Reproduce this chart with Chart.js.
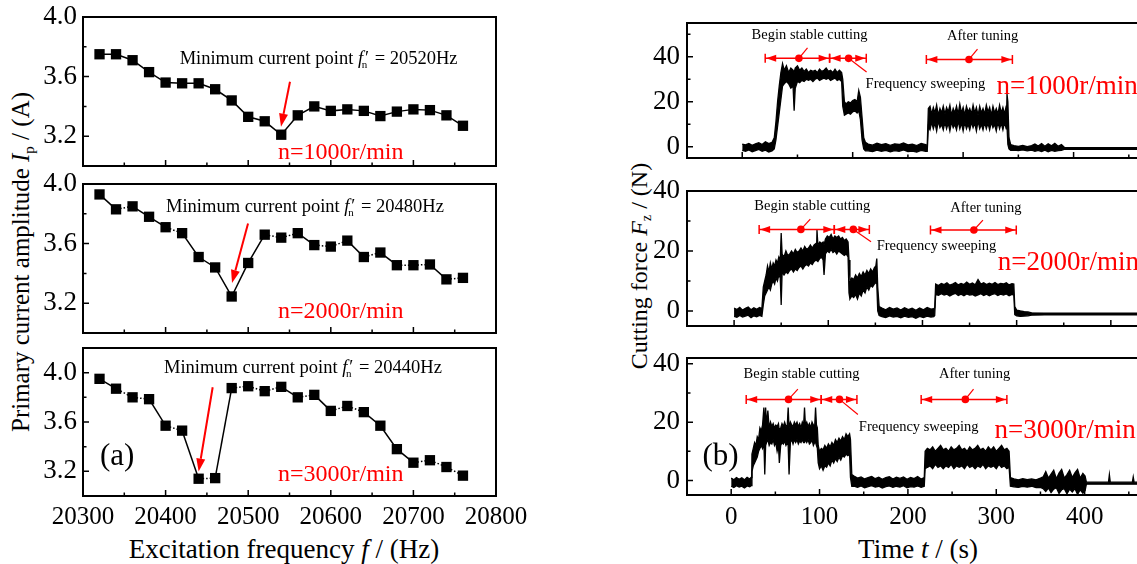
<!DOCTYPE html>
<html><head><meta charset="utf-8">
<script src="https://cdn.jsdelivr.net/npm/chart.js"></script>
<style>
html,body{margin:0;padding:0;width:1137px;height:564px;overflow:hidden;background:#fff;position:relative;}
canvas{position:absolute;}
.ttl{position:absolute;font-family:"Liberation Serif","Times New Roman",serif;color:#000;white-space:nowrap;line-height:1;transform:translate(-50%,-50%);}
.rot{transform:translate(-50%,-50%) rotate(-90deg);}
.ttl sub{font-size:60%;vertical-align:baseline;position:relative;top:0.3em;}
</style></head><body>
<div class="ttl rot" style="left:20px;top:262px;font-size:25px">Primary current amplitude <i>I</i><sub>p</sub> / (A)</div>
<div class="ttl rot" style="left:639px;top:266px;font-size:24px">Cutting force <i>F</i><sub>z</sub> / (N)</div>
<div class="ttl" style="left:284px;top:549px;font-size:27px">Excitation frequency <i>f</i> / (Hz)</div>
<div class="ttl" style="left:918px;top:549px;font-size:27px">Time <i>t</i> / (s)</div>
<script>
// ---------------- data: panel (a) ----------------
const freq = [20320,20340,20360,20380,20400,20420,20440,20460,20480,20500,20520,20540,20560,20580,20600,20620,20640,20660,20680,20700,20720,20740,20760];
const current1000 = [3.75,3.75,3.71,3.63,3.56,3.555,3.555,3.515,3.44,3.33,3.30,3.21,3.34,3.40,3.37,3.38,3.37,3.335,3.365,3.38,3.375,3.34,3.27];
const current2000 = [3.93,3.83,3.85,3.78,3.71,3.67,3.51,3.44,3.245,3.47,3.66,3.64,3.67,3.59,3.58,3.62,3.51,3.54,3.455,3.455,3.46,3.36,3.37];
const current3000 = [3.95,3.87,3.80,3.785,3.57,3.53,3.14,3.145,3.875,3.89,3.85,3.885,3.80,3.82,3.69,3.73,3.68,3.57,3.38,3.27,3.29,3.235,3.165];
const freqTicks = [20300,20400,20500,20600,20700,20800];
const freqMinor = [20350,20450,20550,20650,20750];
const currentTicks = [3.2,3.6,4.0];
const currentMinor = [3.4,3.8];

// ---------------- data: panel (b) ----------------
// n = 1000 r/min : time, upper and lower edge of the force trace
const time1000 = [0,3,6,9,12,15,18,21,24,27,
 29,30.5,32,33.5,35,36.5,38,
 40,42,44,46,47,48,50,52,54,56,58,60,62,64,66,68,70,72,74,76,78,80,82,84,86,88,90,
 91,92.5,94,96,98,100,102,104,105.5,107,108.5,110,111.5,
 114,118,122,126,130,134,138,142,146,150,154,158,162,166,
 167.5,168.5,
 170,171.5,173,174.5,176,177.5,179,180.5,182,183.5,185,186.5,188,189.5,191,192.5,194,195.5,197,198.5,200,201.5,203,204.5,206,207.5,209,210.5,212,213.5,215,216.5,218,219.5,221,222.5,224,225.5,227,228.5,230,231.5,233,234.5,236,237.5,239,
 239.7,240.5,241.5,243,
 246,250,254,258,262,265,268,271,274,277,280,283,286,289,
 292,320,360,400];
const upper1000 = [1.2,0.8,1.5,0.6,1.3,1.8,1.0,2.2,1.4,2.0,
 4,11,20,27,33,37,34,
 36,33,35,34,33,35,36,34,35,33.5,34.5,33,34,33.5,34,33,34.5,33.5,34,35,33.5,34,33,34.5,33,34,33,
 30,20,19,20,19.5,20.5,21,20,25,22,13,4,2,
 1.2,0.7,1.6,0.9,1.4,0.6,1.3,1.0,1.7,0.8,1.2,0.5,1.5,1.0,
 0.5,17,
 18,14.5,17.5,15,18.5,14,17,15,18,14.5,17.5,15.5,18.5,14,17,15,18,14.5,19,15,17.5,14,18,15.5,17,14.5,18.5,15,17.5,14,18,15,17,14.5,18.5,15.5,17.5,14,18,15,17,14.5,18.5,15,17.5,14.5,18,
 23.5,20,4,1.0,
 0.5,0.2,0.6,0.1,0.5,1.2,0.3,1.4,0.2,1.3,0.4,1.5,0.2,1.0,
 -0.4,-0.4,-0.4,-0.4];
const lower1000 = [-1.6,-2.0,-1.4,-2.2,-1.7,-1.2,-2.0,-1.5,-2.3,-1.8,
 -1,3,9,15,21,27,28,
 29,28,26,27,16,26,29,28.5,29.5,29,30,29.5,30,29,30,30.5,29.5,30,30.5,30,30.5,29.5,30,30.5,29.5,30,29,
 18,14,14.5,15,14.5,15.5,16,15,16,12,3,-1,-1.8,
 -1.8,-2.2,-1.5,-2.0,-1.6,-2.3,-1.7,-2.0,-1.4,-2.1,-1.9,-2.4,-1.6,-2.0,
 -2,9,
 7.5,11,8,10.5,7,11.5,8.5,10,7.5,11,8,10.5,7,11,8.5,10,7.5,11.5,8,10.5,7,11,8,10,7.5,11,8.5,10.5,7,11.5,8,10,7.5,11,8,10.5,7.5,11,8.5,10,7,11,8,10.5,7.5,11,8,
 9,1,-1,-1.6,
 -1.5,-1.7,-1.4,-1.8,-1.5,-2.0,-1.6,-2.1,-1.5,-2.2,-1.6,-2.0,-1.7,-1.6,
 -1.1,-1.1,-1.1,-1.1];

// n = 2000 r/min
const time2000 = [0,3,6,9,12,15,18,21,24,27,29.5,
 31,32.5,34,35.5,37,38.5,40,41.5,43,44.5,46,47.5,49,
 50,51,
 53,55,57,59,61,63,65,67,69,71,73,75,77,79,81,83,85,87,88,89,91,93,94.5,95.5,97,
 99,101,103,105,107,109,111,113,115,117,119,121,
 122,123,125,127,129,131,133,135,137,139,141,143,145,147,149,150.5,151.5,152.5,154,
 157,161,165,169,173,177,181,185,189,193,197,201,205,209,212,
 213,214,217,220,223,226,229,232,235,238,241,244,247,250,253,256,259,262,265,268,271,274,277,280,283,286,289,292,295,297,
 298,300,304,308,312,316,330,380,440,470];
const upper2000 = [1.0,0.5,1.2,0.3,0.9,1.3,0.4,1.1,0.6,1.2,0.8,
 8,10,12,15,13,16,14,16,15,17,16,18,17,
 26,19,
 18,20,18.5,19,20,19,20.5,19.5,20,21,20,21.5,20.5,21,22,21,22,22.5,27,22,23,22.5,23,22,24,
 25,24.5,25.5,24,25,24.5,25,24,24.5,23.5,24,23,
 17,10,11,10.5,12,11,12.5,11.5,13,12,13.5,12.5,14,13,14.5,15,17.5,8,1.5,
 1.0,0.4,1.2,0.6,1.0,0.3,1.1,0.5,0.9,0.2,1.0,0.4,1.2,0.6,0.8,
 1,9,8.5,9.2,8.8,9.4,8.6,9,9.5,8.7,9.2,8.8,9.6,8.9,9.3,8.7,10.5,9.0,9.4,8.8,9.3,8.9,9.5,8.8,9.2,9.0,9.4,8.7,9.1,9.0,
 1.5,0.3,0,-0.2,-0.3,-0.6,-0.7,-0.7,-0.7,-0.7];
const lower2000 = [-1.8,-2.1,-1.5,-2.0,-1.7,-1.4,-2.2,-1.6,-1.9,-1.5,-1.8,
 2,5,6,7,8,7,9,10,9,11,10,12,11,
 2,13,
 12,13,12.5,13.5,14,13,14,13.5,14.5,15,14,15,15.5,15,16,15.5,16.5,17,17,16.5,17.5,18,17,12,19,
 20,19.5,20.5,19.5,20,19,20,19.5,19,18.5,19,18,
 6,4,5,4.5,5.5,4,6,5,7,6,8,7,8.5,8,9,9.5,9,0,-1.5,
 -1.9,-2.2,-1.6,-2.0,-1.8,-2.3,-1.7,-2.1,-1.9,-2.4,-1.8,-2.2,-1.7,-2.0,-1.9,
 -1.5,5.5,5.2,5.8,5.3,5.6,5.0,5.5,5.9,5.2,5.6,5.1,5.7,5.3,5.5,5.0,5.4,5.8,5.2,5.6,5.1,5.5,5.8,5.2,5.6,5.3,5.7,5.1,5.5,5.3,
 -1.2,-1.6,-1.8,-1.7,-1.6,-1.4,-1.3,-1.3,-1.3,-1.3];

// n = 3000 r/min
const time3000 = [0,3,6,9,12,15,18,21,22.5,
 23.5,25,26.5,28,29.5,31,32.5,34,35.5,37,38,39,40,41.5,43,44.5,46,47.5,49,50.5,52,53.5,54.5,56,57.5,59,60.5,62,63.5,64.5,65.5,67,68.5,70,71.5,73,74.5,76,77.5,79,80.5,82,83,84,85.5,87,88.5,90,91.5,93,94.5,95.5,96.5,97.5,
 98.5,100,102,104,106,108,110,112,114,116,118,120,122,124,126,128,130,132,134,135,136.5,
 139,143,147,151,155,159,163,167,171,175,179,183,187,191,195,199,203,207,211,215,218.5,
 219.5,222,225,228,231,234,237,240,243,246,249,252,255,258,261,264,267,270,273,276,279,282,285,288,291,294,297,300,303,306,309,312,314.5,
 316,320,325,330,335,340,345,350,353,356,359,362,365,368,371,374,377,380,383,386,389,392,395,398,400.5,402,420,427,428,429,445,454,455,456,480,500];
const upper3000 = [0.8,0.2,1.0,0.4,0.9,0.2,1.1,0.5,1.0,
 9,11,13,12,15,14,18,17,19,25,18,25,19,24,18,20,18.5,19.5,18,19,18.5,19.5,17,18,19.5,18.5,20,18.5,19,25,18,20,19,18.5,20,19,20,18.5,19.5,18,20,19,25,19,20,18.5,19.5,18,20,19,18.5,25,19,18,
 12,10,11,10.5,12,11,12.5,11.5,13,12,14,13,14.5,13.5,15,14,16,15,16,14,2,
 1.5,0.8,1.2,0.5,1.0,1.4,0.6,1.1,0.4,1.0,1.3,0.5,1.1,0.7,1.2,0.4,1.0,0.6,1.3,0.5,1.0,
 10,11,10.5,11.5,10,11,12,10.5,11,10,11.5,10.5,11,12,10.5,11,10,11.5,10.5,11,12,10.5,11,10,11.5,10.5,11.5,10,11,12,10.5,11,10,
 1.0,0.5,0.2,0.6,0.3,0.5,0.2,0.8,1.2,3,0.8,2.2,3.5,0.6,2.5,3.8,0.8,2,3.5,1,2.6,3.8,0.8,2.4,1.5,-0.6,-0.6,-0.6,2,-0.6,-0.6,-0.6,1.2,-0.6,-0.6,-0.6];
const lower3000 = [-2.0,-2.4,-1.8,-2.3,-2.0,-2.6,-1.9,-2.2,-1.8,
 3,5,6,7,8,10,11,12,11,13,2,12,13,14,12,13,12.5,14,12,13,10,12,6,12,13,12.5,13.5,12,13,12,2,13,14,12.5,14,13,14,12.5,13.5,13,14,13,13,14,13,14,12.5,13,14,12,13,13,12,11,
 6,4,5,3.5,5,4.5,6,5,7,6,7.5,6.5,8,7,8.5,8,9,8.5,9,1,-2,
 -2.0,-2.4,-1.9,-2.5,-2.1,-1.8,-2.3,-2.0,-2.6,-2.1,-1.9,-2.4,-2.0,-2.3,-1.8,-2.5,-2.1,-2.3,-1.9,-2.4,-2.0,
 4,4.5,5,4,5.5,4.5,5,4,5,4.5,5.5,4,5,4.5,5,4,5.5,4.5,5,4,5,4.5,5.5,4,5,4.5,5,4,5.5,4.5,5,4,4.5,
 -2.0,-2.2,-2.4,-2.0,-2.3,-2.0,-2.5,-2.4,-2.8,-3.8,-2.6,-4.2,-3,-2.5,-4.5,-3.2,-2.8,-4.6,-3,-4,-2.8,-4.8,-3.2,-4.4,-3.5,-1.3,-1.3,-1.3,-1.3,-1.3,-1.3,-1.3,-1.3,-1.3,-1.3,-1.3];
const timeTicks = [0,100,200,300,400,500];
const timeMinor = [50,150,250,350,450];
const forceTicks = [0,20,40];
const forceMinor = [10,30,50];

// ---------------- drawing helpers ----------------
const SERIF = '"Liberation Serif", "Times New Roman", serif';
const RED = '#ff0000';
Chart.defaults.font.family = SERIF;
Chart.defaults.color = '#000';

function mkCanvas(l, t, w, h) {
  const c = document.createElement('canvas');
  c.width = w; c.height = h;
  c.style.left = l + 'px'; c.style.top = t + 'px';
  c.style.width = w + 'px'; c.style.height = h + 'px';
  document.body.appendChild(c);
  return c;
}
const PX = (ch, v) => ch.scales.x.getPixelForValue(v);
const PY = (ch, v) => ch.scales.y.getPixelForValue(v);

function drawFrame(ch, s) {
  const ctx = ch.ctx, a = ch.chartArea;
  ctx.save();
  ctx.strokeStyle = '#000'; ctx.lineWidth = 1.5;
  ctx.beginPath();
  s.xMajor.forEach(v => { const X = PX(ch, v); if (X <= a.right + 1) { ctx.moveTo(X, a.bottom); ctx.lineTo(X, a.bottom - 6); } });
  s.xMinor.forEach(v => { const X = PX(ch, v); if (X <= a.right + 1) { ctx.moveTo(X, a.bottom); ctx.lineTo(X, a.bottom - 3.5); } });
  s.yMajor.forEach(v => { const Y = PY(ch, v); if (Y >= a.top - 1) { ctx.moveTo(a.left, Y); ctx.lineTo(a.left + 6, Y); } });
  s.yMinor.forEach(v => { const Y = PY(ch, v); if (Y >= a.top - 1) { ctx.moveTo(a.left, Y); ctx.lineTo(a.left + 3.5, Y); } });
  ctx.stroke();
  ctx.lineWidth = 2;
  ctx.strokeRect(a.left, a.top, a.right - a.left, a.bottom - a.top);
  ctx.restore();
}
function txt(ctx, str, x, y, size, color, align, style) {
  ctx.font = (style ? style + ' ' : '') + size + 'px ' + SERIF;
  ctx.fillStyle = color; ctx.textAlign = align || 'left'; ctx.textBaseline = 'alphabetic';
  ctx.fillText(str, x, y);
}
function minText(ctx, x, y, val, size) {
  ctx.fillStyle = '#000'; ctx.textAlign = 'left'; ctx.textBaseline = 'alphabetic';
  ctx.font = size + 'px ' + SERIF;
  const s1 = 'Minimum current point ';
  ctx.fillText(s1, x, y); x += ctx.measureText(s1).width;
  ctx.font = 'italic ' + size + 'px ' + SERIF;
  ctx.fillText('f', x, y); const fw = ctx.measureText('f').width;
  ctx.font = Math.round(size * 0.62) + 'px ' + SERIF;
  ctx.fillText('n', x + fw * 0.75, y + size * 0.22);
  const nw = ctx.measureText('n').width;
  ctx.font = size + 'px ' + SERIF;
  ctx.fillText('\u2032', x + fw * 1.35, y - size * 0.02);
  x += fw * 0.75 + nw + size * 0.4;
  ctx.fillText('= ' + val + 'Hz', x, y);
}
function arrow(ctx, x1, y1, x2, y2) {
  const ang = Math.atan2(y2 - y1, x2 - x1), hl = 13, hw = 4.5;
  const bx = x2 - hl * Math.cos(ang), by = y2 - hl * Math.sin(ang);
  ctx.strokeStyle = RED; ctx.fillStyle = RED; ctx.lineWidth = 2;
  ctx.beginPath(); ctx.moveTo(x1, y1); ctx.lineTo(bx, by); ctx.stroke();
  ctx.beginPath(); ctx.moveTo(x2, y2);
  ctx.lineTo(bx + hw * Math.sin(ang), by - hw * Math.cos(ang));
  ctx.lineTo(bx - hw * Math.sin(ang), by + hw * Math.cos(ang));
  ctx.closePath(); ctx.fill();
}
function spanArrow(ctx, X0, X1, Y, CX) {
  ctx.strokeStyle = RED; ctx.fillStyle = RED; ctx.lineWidth = 1.5;
  ctx.beginPath();
  ctx.moveTo(X0, Y); ctx.lineTo(X1, Y);
  ctx.moveTo(X0, Y - 4.5); ctx.lineTo(X0, Y + 4.5);
  ctx.moveTo(X1, Y - 4.5); ctx.lineTo(X1, Y + 4.5);
  ctx.stroke();
  const tri = (x, d) => { ctx.beginPath(); ctx.moveTo(x, Y); ctx.lineTo(x + d * 10, Y - 3.5); ctx.lineTo(x + d * 10, Y + 3.5); ctx.closePath(); ctx.fill(); };
  tri(X0 + 1, 1); tri(X1 - 1, -1);
  ctx.beginPath(); ctx.arc(CX, Y, 3.8, 0, Math.PI * 2); ctx.fill();
}
function leader(ctx, x1, y1, x2, y2) {
  ctx.strokeStyle = RED; ctx.lineWidth = 1.2;
  ctx.beginPath(); ctx.moveTo(x1, y1); ctx.lineTo(x2, y2); ctx.stroke();
}

function overlay(spec) {
  return {
    id: 'overlay',
    afterDraw(ch) {
      drawFrame(ch, spec);
      const ctx = ch.ctx; ctx.save();
      const A = spec.ann;
      if (A.kind === 'left') {
        minText(ctx, PX(ch, A.text[0]), PY(ch, A.text[1]), A.val, 18.5);
        arrow(ctx, PX(ch, A.arrow[0]), PY(ch, A.arrow[1]), PX(ch, A.arrow[2]), PY(ch, A.arrow[3]));
        txt(ctx, A.n, PX(ch, A.nPos[0]), PY(ch, A.nPos[1]), 24, RED);
        if (A.tag) txt(ctx, A.tag, PX(ch, A.tagPos[0]), PY(ch, A.tagPos[1]), 31, '#000');
      } else {
        A.spans.forEach(s => {
          const Y = PY(ch, s.y);
          spanArrow(ctx, PX(ch, s.x0), PX(ch, s.x1), Y, PX(ch, s.c));
          leader(ctx, PX(ch, s.c), Y, PX(ch, s.l[0]), PY(ch, s.l[1]));
        });
        txt(ctx, 'Begin stable cutting', PX(ch, A.begin[0]), PY(ch, A.begin[1]), 14.5, '#000', 'center');
        txt(ctx, 'Frequency sweeping', PX(ch, A.sweep[0]), PY(ch, A.sweep[1]), 14.5, '#000', 'left');
        txt(ctx, 'After tuning', PX(ch, A.after[0]), PY(ch, A.after[1]), 14.5, '#000', 'center');
        txt(ctx, A.n, PX(ch, A.nPos[0]), PY(ch, A.nPos[1]), 27, RED);
        if (A.tag) txt(ctx, A.tag, PX(ch, A.tagPos[0]), PY(ch, A.tagPos[1]), 31, '#000');
      }
      ctx.restore();
    }
  };
}

function dotSegment(c) {
  const L = Math.hypot(c.p1.x - c.p0.x, c.p1.y - c.p0.y);
  if (L > 19) return undefined;
  const a = Math.max((L - 5.5) / 2, 0.1);
  return [a, 2, 1.5, 2, a, 0];
}

// ---------------- left column (a) ----------------
function leftChart(spec) {
  const PT = 26, PB = spec.xh ? 10 : 26, W = 540, R = 496;
  const c = mkCanvas(0, spec.top - PT, W, PT + (spec.bottom - spec.top) + spec.xh + PB);
  const ds = {
    data: freq.map((f, i) => ({ x: f, y: spec.values[i] })),
    borderColor: '#000', borderWidth: 1.5, tension: 0,
    pointStyle: 'rect', pointRadius: 7.3, pointBackgroundColor: '#000', pointBorderColor: '#000', pointBorderWidth: 0
  };
  if (spec.dotted) ds.segment = { borderDash: dotSegment };
  new Chart(c, {
    type: 'line',
    data: { datasets: [ds] },
    options: {
      responsive: false, animation: false, events: [], devicePixelRatio: 1,
      layout: { padding: { top: PT, bottom: PB, left: 0, right: W - R } },
      plugins: { legend: { display: false }, tooltip: { enabled: false } },
      scales: {
        x: {
          type: 'linear', min: 20300, max: 20800,
          grid: { display: false, drawTicks: false }, border: { display: false },
          afterBuildTicks: s => { s.ticks = freqTicks.map(v => ({ value: v })); },
          afterFit: s => { s.height = spec.xh; },
          ticks: { display: spec.xh > 0, font: { size: 25, family: SERIF }, color: '#000', padding: 6, autoSkip: false, maxRotation: 0, callback: v => String(v) }
        },
        y: {
          type: 'linear', min: 3.0, max: spec.ymax,
          grid: { display: false, drawTicks: false }, border: { display: false },
          afterBuildTicks: s => { s.ticks = currentTicks.map(v => ({ value: v })); },
          afterFit: s => { s.width = 83; },
          ticks: { font: { size: 27, family: SERIF }, color: '#000', padding: 6, callback: v => Number(v).toFixed(1) }
        }
      }
    },
    plugins: [overlay({ xMajor: freqTicks, xMinor: freqMinor, yMajor: currentTicks, yMinor: currentMinor, ann: spec.ann })]
  });
}

// ---------------- right column (b) ----------------
function rightChart(spec) {
  const PT = 26, PB = spec.xh ? 10 : 26, L = 600, W = 610, R = 1173;
  const c = mkCanvas(L, spec.top - PT, W, PT + (spec.bottom - spec.top) + spec.xh + PB);
  const hiPts = spec.t.map((t, i) => ({ x: t, y: spec.hi[i] }));
  const loPts = spec.t.map((t, i) => ({ x: t, y: spec.lo[i] }));
  new Chart(c, {
    type: 'line',
    data: {
      datasets: [
        { data: hiPts, borderColor: '#000', borderWidth: 1.3, pointRadius: 0, tension: 0, fill: false },
        { data: loPts, borderColor: '#000', borderWidth: 1.3, pointRadius: 0, tension: 0, fill: '-1', backgroundColor: '#000' }
      ]
    },
    options: {
      responsive: false, animation: false, events: [], devicePixelRatio: 1,
      layout: { padding: { top: PT, bottom: PB, left: 0, right: W - (R - L) } },
      plugins: { legend: { display: false }, tooltip: { enabled: false }, filler: { propagate: false } },
      scales: {
        x: {
          type: 'linear', min: -50, max: spec.xmax,
          grid: { display: false, drawTicks: false }, border: { display: false },
          afterBuildTicks: s => { s.ticks = timeTicks.filter(v => v <= spec.xmax).map(v => ({ value: v })); },
          afterFit: s => { s.height = spec.xh; },
          ticks: { display: spec.xh > 0, font: { size: 25, family: SERIF }, color: '#000', padding: 7, autoSkip: false, maxRotation: 0, callback: v => String(v) }
        },
        y: {
          type: 'linear', min: -5, max: spec.ymax,
          grid: { display: false, drawTicks: false }, border: { display: false },
          afterBuildTicks: s => { s.ticks = forceTicks.map(v => ({ value: v })); },
          afterFit: s => { s.width = 87; },
          ticks: { font: { size: 27, family: SERIF }, color: '#000', padding: 7, callback: v => String(v) }
        }
      }
    },
    plugins: [overlay({ xMajor: timeTicks, xMinor: timeMinor, yMajor: forceTicks, yMinor: forceMinor, ann: spec.ann })]
  });
}

leftChart({ top: 17, bottom: 166, ymax: 4.0, xh: 0, values: current1000, dotted: false,
  ann: { kind: 'left', text: [20417, 3.685], val: '20520', arrow: [20550.6, 3.565, 20539.7, 3.264], n: 'n=1000r/min', nPos: [20536, 3.05] } });
leftChart({ top: 184, bottom: 333, ymax: 4.0, xh: 0, values: current2000, dotted: true,
  ann: { kind: 'left', text: [20400.5, 3.81], val: '20480', arrow: [20499.8, 3.735, 20480.4, 3.335], n: 'n=2000r/min', nPos: [20536, 3.10] } });
leftChart({ top: 348, bottom: 496, ymax: 4.2, xh: 40, values: current3000, dotted: true,
  ann: { kind: 'left', text: [20398, 3.995], val: '20440', arrow: [20457, 3.882, 20440, 3.198], n: 'n=3000r/min', nPos: [20536, 3.118], tag: '(a)', tagPos: [20320.6, 3.255] } });

rightChart({ top: 23, bottom: 158, ymax: 55, xmax: 390, xh: 0, t: time1000, hi: upper1000, lo: lower1000,
  ann: { kind: 'right',
    spans: [ { x0: 20.8, x1: 79.1, c: 51.3, y: 39.3, l: [59.1, 43.9] },
             { x0: 79.1, x1: 112.3, c: 96.3, y: 39.3, l: [112.6, 33.2] },
             { x0: 166.7, x1: 244.6, c: 205.3, y: 38.8, l: [213, 43.4] } ],
    begin: [61, 47.9], sweep: [111.7, 26.1], after: [217.7, 47.4], n: 'n=1000r/min', nPos: [230.3, 23.4] } });
rightChart({ top: 191, bottom: 326, ymax: 40, xmax: 466, xh: 0, t: time2000, hi: upper2000, lo: lower2000,
  ann: { kind: 'right',
    spans: [ { x0: 26.6, x1: 106.4, c: 70.9, y: 27.2, l: [80.9, 30.6] },
             { x0: 106.4, x1: 143.6, c: 126.6, y: 27.2, l: [145.4, 23.1] },
             { x0: 208.5, x1: 299.6, c: 254.6, y: 27, l: [264.2, 30.3] } ],
    begin: [83, 33.7], sweep: [151.4, 20.3], after: [267.4, 33.1], n: 'n=2000r/min', nPos: [280, 13.7] } });
rightChart({ top: 358, bottom: 495, ymax: 42, xmax: 500, xh: 40, t: time3000, hi: upper3000, lo: lower3000,
  ann: { kind: 'right',
    spans: [ { x0: 17, x1: 101.9, c: 64.9, y: 27.8, l: [75.5, 31.3] },
             { x0: 101.9, x1: 142.3, c: 122.6, y: 27.8, l: [143.4, 22.6] },
             { x0: 215, x1: 312, c: 265, y: 27.8, l: [274.3, 31.3] } ],
    begin: [79.6, 35], sweep: [144.5, 16.9], after: [275.5, 35], n: 'n=3000r/min', nPos: [298, 14.6], tag: '(b)', tagPos: [-32.5, 5.4] } });
</script>
</body></html>
